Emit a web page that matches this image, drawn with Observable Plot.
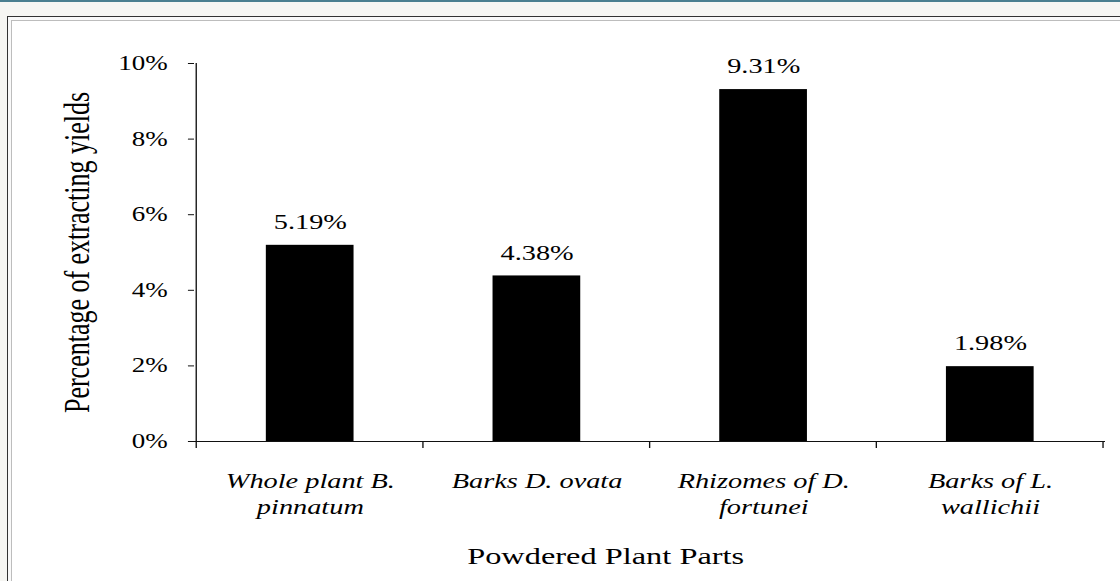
<!DOCTYPE html>
<html>
<head>
<meta charset="utf-8">
<script src="https://cdn.jsdelivr.net/npm/d3@7"></script>
<script src="https://cdn.jsdelivr.net/npm/@observablehq/plot@0.6"></script>
<style>
  html, body { margin: 0; padding: 0; }
  body { width: 1120px; height: 581px; overflow: hidden; background: #f6f6f3; position: relative; font-family: "Liberation Serif", serif; }
  #topline { position: absolute; left: 0; top: 0; width: 1120px; height: 2px; background: #4a7f90; }
  #outer { position: absolute; left: 7px; top: 16px; width: 1200px; height: 700px; border-left: 1px solid #333; border-top: 1px solid #333; background: #f9f9f9; }
  #inner { position: absolute; left: 11px; top: 20px; width: 1200px; height: 700px; border-left: 1px solid #bdbdbd; border-top: 1px solid #bdbdbd; background: #fff; }
  #chart { position: absolute; left: 0; top: 0; transform-origin: 0 0; }
</style>
</head>
<body>
<div id="topline"></div>
<div id="outer"></div>
<div id="inner"></div>
<div id="chart"></div>
<script>
// ---- data ----
const categories = ["Whole plant B.\npinnatum", "Barks D. ovata", "Rhizomes of D.\nfortunei", "Barks of L.\nwallichii"];
const values = [5.19, 4.38, 9.31, 1.98];
const valueLabels = ["5.19%", "4.38%", "9.31%", "1.98%"];
const yTicks = [0, 2, 4, 6, 8, 10];
const yTitle = "Percentage of extracting yields";
const xTitle = "Powdered Plant Parts";

const data = categories.map((c, i) => ({cat: c, value: values[i], label: valueLabels[i]}));

// The source picture is horizontally stretched; draw narrower and stretch.
const W = 830;
const stretch = 1120 / W;
const padIn = 0.614;

// custom mark: vertical axis line and category separator ticks
function axisLines(index, scales, values, dimensions) {
  const x = scales.x, y = scales.y;
  const step = x(categories[1]) - x(categories[0]);
  const g = d3.create("svg:g").attr("stroke", "#111").attr("fill", "none");
  const y0 = y(0), yTop = y(yTicks[yTicks.length - 1]);
  const bounds = categories.map(c => x(c) - step * padIn / 2);
  bounds.push(bounds[bounds.length - 1] + step);
  g.append("line").attr("x1", bounds[0]).attr("x2", bounds[0])
    .attr("y1", yTop).attr("y2", y0);
  for (const b of bounds) {
    g.append("line").attr("x1", b).attr("x2", b).attr("y1", y0).attr("y2", y0 + 7);
  }
  return g.node();
}

const chart = Plot.plot({
  width: W,
  height: 581,
  marginLeft: 194 / stretch,
  marginRight: W - 1105 / stretch,
  marginTop: 63,
  marginBottom: 140,
  style: {background: "none", maxWidth: "none", overflow: "visible", fontFamily: "Liberation Serif, serif", color: "#000"},
  x: {domain: categories, paddingInner: padIn, paddingOuter: padIn / 2, axis: null},
  y: {domain: [0, 10], axis: null},
  marks: [
    Plot.barY(data, {x: "cat", y: "value", fill: "#000"}),
    Plot.ruleY([0], {stroke: "#111"}),
    axisLines,
    Plot.axisY(yTicks, {tickSize: 4.5, tickPadding: 15.5, tickFormat: d => d + "%", fontSize: 20, label: null, stroke: "#111"}),
    Plot.text(data, {x: "cat", y: "value", text: "label", dy: -23, fontSize: 21}),
    Plot.text(categories, {x: d => d, text: d => d, frameAnchor: "bottom", lineAnchor: "top", dy: 28, lineHeight: 1.238, fontSize: 21, fontStyle: "italic"}),
    Plot.text([yTitle], {text: d => d, frameAnchor: "left", textAnchor: "middle", rotate: -90, dx: -87, fontSize: 26}),
    Plot.text([xTitle], {text: d => d, frameAnchor: "bottom", dx: -33, dy: 122, fontSize: 24})
  ]
});

const holder = document.getElementById("chart");
holder.style.transform = `scaleX(${stretch})`;
holder.appendChild(chart);
</script>
</body>
</html>
